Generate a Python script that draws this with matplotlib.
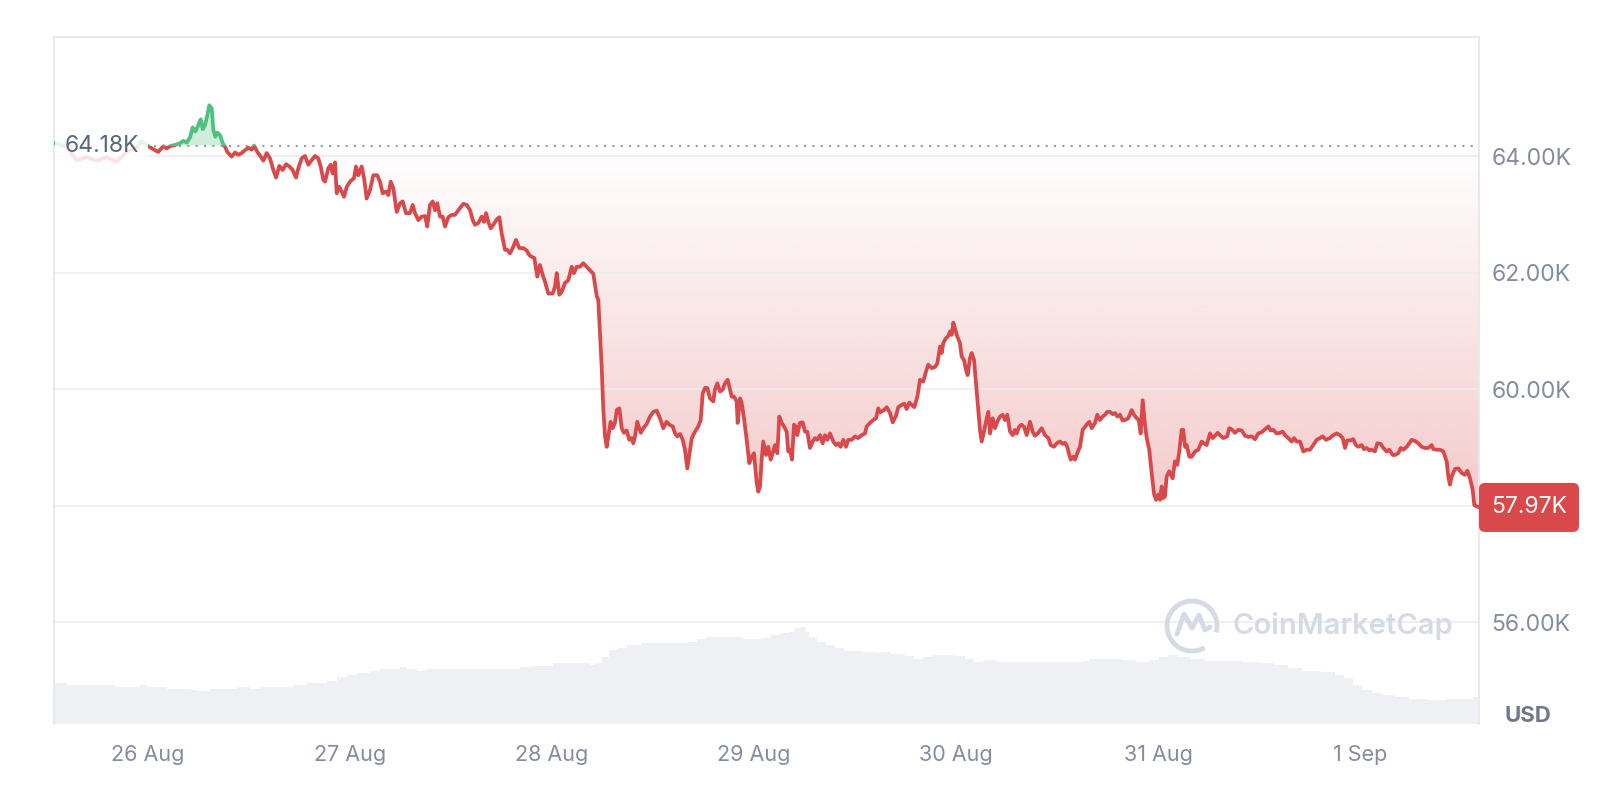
import numpy as np
import pandas as pd
import matplotlib
matplotlib.use("Agg")
import matplotlib.pyplot as plt
import matplotlib.dates as mdates
from matplotlib.patches import Arc, FancyBboxPatch
from matplotlib.path import Path
from matplotlib.ticker import FuncFormatter
from matplotlib.transforms import IdentityTransform, blended_transform_factory

plt.rcParams["font.family"] = ["Inter", "DejaVu Sans"]

# BTC price, 7 days; hours counted from 26 Aug 2024 00:00, prices in thousand USD
hours = [
    -11.05, -9.66, -8.47, -7.28, -6.09, -4.91, -3.72, -2.53, -1.34, -0.75,
    -0.15, 0.24, 0.83, 1.22, 1.82, 2.22, 2.61, 3.21, 3.80, 4.19,
    4.60, 4.99, 5.31, 5.62, 5.98, 6.26, 6.50, 6.77, 7.05, 7.28,
    7.57, 7.76, 8.00, 8.23, 8.55, 8.88, 9.15, 9.42, 9.94, 10.34,
    10.73, 11.13, 11.52, 11.92, 12.32, 12.59, 12.99, 13.39, 13.70, 14.10,
    14.49, 14.89, 15.21, 15.60, 16.00, 16.40, 16.79, 17.19, 17.58, 17.86,
    18.26, 18.65, 19.05, 19.45, 19.84, 20.23, 20.52, 20.83, 21.03, 21.42,
    21.71, 21.94, 22.22, 22.42, 22.73, 23.01, 23.29, 23.61, 24.00, 24.48,
    24.71, 24.99, 25.39, 25.70, 25.98, 26.38, 26.77, 27.24, 27.56, 27.88,
    28.28, 28.55, 28.84, 29.14, 29.55, 29.94, 30.26, 30.65, 31.13, 31.45,
    31.72, 32.12, 32.52, 32.91, 33.18, 33.50, 33.83, 34.10, 34.37, 34.69,
    35.01, 35.29, 35.68, 36.08, 36.47, 36.87, 37.46, 37.87, 38.26, 38.58,
    38.85, 39.24, 39.65, 39.92, 40.16, 40.43, 40.72, 41.03, 41.43, 41.74,
    42.02, 42.42, 42.69, 43.01, 43.33, 43.72, 44.11, 44.59, 44.99, 45.30,
    45.59, 45.90, 46.25, 46.57, 46.89, 47.17, 47.56, 48.08, 48.36, 48.56,
    48.87, 49.15, 49.54, 49.94, 50.34, 50.61, 50.93, 51.33, 51.72, 52.12,
    52.43, 52.91, 53.31, 53.50, 53.70, 53.90, 54.10, 54.30, 54.50, 54.69,
    54.97, 55.21, 55.48, 55.69, 56.00, 56.28, 56.55, 56.87, 57.18, 57.47,
    57.66, 57.86, 58.13, 58.54, 58.85, 59.25, 59.64, 60.04, 60.44, 60.83,
    61.22, 61.62, 61.94, 62.34, 62.61, 62.89, 63.21, 63.53, 63.80, 64.08,
    64.41, 64.61, 64.99, 65.38, 65.67, 65.91, 66.18, 66.45, 66.77, 67.16,
    67.36, 67.64, 67.96, 68.28, 68.55, 68.87, 69.15, 69.35, 69.62, 69.94,
    70.06, 70.34, 70.54, 70.81, 71.13, 71.44, 71.73, 72.00, 72.32, 72.51,
    72.71, 72.91, 73.10, 73.43, 73.70, 73.98, 74.22, 74.49, 74.77, 75.01,
    75.29, 75.56, 75.88, 76.07, 76.28, 76.51, 76.75, 76.99, 77.14, 77.46,
    77.78, 78.06, 78.33, 78.65, 78.97, 79.25, 79.52, 79.84, 80.16, 80.44,
    80.71, 81.03, 81.42, 81.74, 82.01, 82.30, 82.61, 82.93, 83.20, 83.61,
    84.00, 84.39, 84.79, 85.19, 85.39, 85.78, 86.17, 86.50, 86.77, 86.97,
    87.45, 87.77, 88.16, 88.48, 88.87, 89.14, 89.55, 89.86, 90.14, 90.45,
    90.74, 91.05, 91.41, 91.72, 92.11, 92.43, 92.71, 93.11, 93.50, 93.78,
    94.10, 94.30, 94.49, 94.78, 95.08, 95.29, 95.49, 95.68, 95.88, 96.08,
    96.47, 96.67, 96.95, 97.19, 97.39, 97.66, 97.86, 98.14, 98.38, 98.65,
    98.85, 99.05, 99.33, 99.56, 99.84, 100.04, 100.36, 100.63, 100.91, 101.23,
    101.55, 101.82, 102.10, 102.42, 102.74, 103.01, 103.21, 103.52, 103.80, 104.08,
    104.40, 104.79, 105.11, 105.38, 105.78, 106.18, 106.57, 106.97, 107.25, 107.64,
    107.96, 108.36, 108.68, 108.95, 109.22, 109.46, 109.63, 109.94, 110.14, 110.41,
    110.73, 111.05, 111.53, 111.84, 112.12, 112.52, 112.79, 113.11, 113.43, 113.70,
    113.98, 114.30, 114.62, 114.89, 115.17, 115.48, 115.80, 116.08, 116.47, 116.87,
    117.15, 117.47, 117.71, 117.94, 118.18, 118.46, 118.66, 118.96, 119.25, 119.52,
    119.76, 120.04, 120.24, 120.44, 120.63, 120.83, 121.03, 121.34, 121.74, 122.01,
    122.29, 122.53, 122.81, 123.01, 123.21, 123.41, 123.72, 124.00, 124.40, 124.79,
    125.19, 125.46, 125.78, 126.18, 126.50, 126.77, 127.09, 127.36, 127.76, 128.23,
    128.47, 128.76, 129.15, 129.54, 129.94, 130.34, 130.73, 131.13, 131.53, 131.92,
    132.32, 132.71, 133.11, 133.39, 133.70, 134.10, 134.49, 134.81, 135.09, 135.48,
    135.88, 136.16, 136.48, 136.87, 137.26, 137.66, 138.06, 138.45, 138.85, 139.25,
    139.56, 139.96, 140.43, 140.83, 141.23, 141.62, 141.94, 142.22, 142.49, 142.89,
    143.20, 143.52, 143.79, 144.20, 144.47, 144.79, 145.10, 145.39, 145.78, 146.05,
    146.46, 146.77, 147.17, 147.48, 147.88, 148.16, 148.55, 148.84, 149.14, 149.55,
    149.86, 150.14, 150.53, 150.93, 151.33, 151.72, 152.12, 152.52, 152.71, 153.11,
    153.50, 153.90, 154.30, 154.49, 154.69, 154.89, 155.29, 155.68, 156.08, 156.47,
    156.75, 157.07, 157.39, 157.58, 157.86, 158.18,
]
price_k = [
    64.22, 64.16, 63.93, 63.98, 63.92, 63.98, 63.90, 64.07, 64.16, 64.25,
    64.19, 64.15, 64.10, 64.07, 64.17, 64.13, 64.17, 64.19, 64.22, 64.26,
    64.23, 64.32, 64.49, 64.42, 64.53, 64.63, 64.46, 64.53, 64.70, 64.87,
    64.82, 64.45, 64.33, 64.40, 64.36, 64.22, 64.16, 64.07, 63.99, 64.06,
    64.02, 64.05, 64.10, 64.14, 64.11, 64.18, 64.07, 63.99, 63.92, 64.05,
    63.96, 63.76, 63.63, 63.83, 63.76, 63.86, 63.82, 63.76, 63.63, 63.79,
    63.96, 64.00, 63.85, 63.93, 64.00, 63.96, 63.82, 63.59, 63.56, 63.79,
    63.85, 63.70, 63.89, 63.36, 63.47, 63.39, 63.30, 63.47, 63.56, 63.62,
    63.82, 63.67, 63.82, 63.59, 63.27, 63.42, 63.67, 63.67, 63.56, 63.36,
    63.39, 63.33, 63.56, 63.45, 63.04, 63.19, 63.22, 63.02, 63.02, 63.16,
    63.02, 62.90, 62.96, 62.97, 62.79, 63.16, 63.22, 63.07, 63.19, 62.96,
    62.96, 62.79, 62.95, 62.99, 62.99, 63.07, 63.18, 63.16, 63.07, 62.90,
    62.82, 62.85, 62.96, 62.87, 63.02, 62.87, 62.76, 62.82, 62.91, 62.95,
    62.67, 62.39, 62.39, 62.33, 62.42, 62.56, 62.42, 62.42, 62.38, 62.30,
    62.27, 62.25, 61.93, 62.13, 61.96, 61.84, 61.64, 61.64, 61.76, 61.99,
    61.62, 61.67, 61.82, 61.87, 62.10, 61.99, 62.10, 62.10, 62.16, 62.10,
    62.05, 61.98, 61.60, 61.53, 60.96, 60.39, 59.64, 59.19, 59.01, 59.19,
    59.44, 59.33, 59.42, 59.64, 59.67, 59.33, 59.25, 59.29, 59.13, 59.16,
    59.07, 59.19, 59.44, 59.25, 59.33, 59.40, 59.53, 59.61, 59.63, 59.50,
    59.33, 59.44, 59.39, 59.36, 59.24, 59.19, 59.23, 59.13, 58.96, 58.64,
    58.96, 59.16, 59.27, 59.36, 59.47, 59.93, 60.02, 60.02, 59.84, 59.79,
    59.99, 60.10, 59.96, 59.99, 60.10, 60.16, 59.99, 59.87, 59.87, 59.79,
    59.42, 59.84, 59.76, 59.50, 59.13, 58.73, 58.84, 58.90, 58.39, 58.24,
    58.33, 58.79, 59.10, 58.87, 59.01, 58.79, 58.90, 59.04, 58.90, 59.53,
    59.42, 59.36, 59.27, 58.93, 58.96, 58.79, 59.39, 59.36, 59.21, 59.42,
    59.43, 59.27, 59.27, 58.99, 59.10, 59.16, 59.13, 59.21, 59.07, 59.21,
    59.13, 59.24, 59.10, 59.04, 59.07, 59.01, 59.13, 59.01, 59.13, 59.13,
    59.19, 59.16, 59.21, 59.24, 59.36, 59.42, 59.47, 59.50, 59.67, 59.60,
    59.64, 59.69, 59.59, 59.43, 59.54, 59.69, 59.73, 59.75, 59.66, 59.77,
    59.73, 59.69, 59.87, 60.16, 60.13, 60.30, 60.42, 60.36, 60.38, 60.44,
    60.73, 60.62, 60.79, 60.87, 60.91, 60.99, 60.93, 61.14, 61.04, 60.93,
    60.79, 60.56, 60.50, 60.33, 60.24, 60.53, 60.62, 60.50, 60.10, 59.64,
    59.30, 59.10, 59.27, 59.44, 59.61, 59.24, 59.50, 59.33, 59.44, 59.53,
    59.56, 59.47, 59.56, 59.27, 59.21, 59.30, 59.24, 59.36, 59.39, 59.35,
    59.21, 59.44, 59.27, 59.20, 59.25, 59.33, 59.21, 59.16, 59.04, 59.01,
    59.07, 59.10, 59.06, 59.08, 59.01, 58.87, 58.79, 58.84, 58.79, 58.90,
    59.01, 59.30, 59.39, 59.44, 59.33, 59.42, 59.56, 59.47, 59.53, 59.56,
    59.61, 59.61, 59.57, 59.59, 59.53, 59.56, 59.46, 59.47, 59.50, 59.64,
    59.56, 59.50, 59.47, 59.24, 59.81, 59.38, 59.16, 58.96, 58.56, 58.21,
    58.10, 58.19, 58.10, 58.33, 58.13, 58.16, 58.50, 58.59, 58.47, 58.76,
    58.70, 58.93, 59.30, 59.30, 59.01, 59.04, 58.84, 58.84, 58.93, 58.96,
    59.10, 59.07, 59.04, 59.24, 59.16, 59.20, 59.25, 59.21, 59.16, 59.19,
    59.33, 59.31, 59.25, 59.30, 59.29, 59.20, 59.18, 59.19, 59.14, 59.24,
    59.26, 59.31, 59.36, 59.29, 59.30, 59.24, 59.25, 59.27, 59.21, 59.16,
    59.10, 59.16, 59.10, 59.10, 58.93, 58.96, 58.96, 59.04, 59.13, 59.16,
    59.19, 59.13, 59.16, 59.21, 59.24, 59.21, 59.16, 58.99, 59.12, 59.12,
    59.14, 59.04, 59.01, 59.04, 58.97, 58.99, 58.95, 58.96, 58.93, 59.07,
    59.06, 58.99, 58.93, 58.96, 58.87, 58.87, 58.90, 58.99, 58.96, 59.01,
    59.07, 59.13, 59.11, 59.07, 59.01, 58.99, 58.99, 59.04, 58.97, 58.96,
    58.96, 58.93, 58.76, 58.50, 58.36, 58.50, 58.63, 58.64, 58.56, 58.53,
    58.60, 58.47, 58.27, 58.01, 57.99, 57.97,
]

# 24h volume, billions USD
vol_hours = [
    -11.05, -9.66, -3.92, -0.95, -0.15, 2.22, 4.99, 5.79, 7.37, 10.54,
    12.12, 13.31, 17.26, 18.86, 21.23, 22.42, 23.61, 24.80, 26.38, 27.56,
    29.94, 30.74, 31.92, 33.11, 44.20, 45.78, 48.14, 52.54, 53.08, 53.96,
    54.74, 55.83, 56.93, 58.59, 60.23, 64.07, 65.17, 66.27, 70.67, 72.87,
    73.96, 75.06, 76.16, 76.70, 77.48, 78.14, 78.58, 79.45, 80.55, 81.65,
    82.75, 84.95, 86.60, 87.15, 88.24, 89.89, 91.00, 92.09, 93.18, 95.94,
    97.03, 98.14, 99.23, 100.88, 111.31, 111.86, 115.71, 117.36, 119.00, 120.11,
    121.20, 122.30, 123.94, 125.60, 129.99, 132.19, 133.83, 135.48, 137.13, 139.33,
    140.98, 142.08, 143.18, 144.27, 145.38, 146.47, 148.13, 149.78, 151.96, 154.16,
    156.36, 157.46, 158.18,
]
volume_b = [
    20.7, 19.5, 18.4, 19.5, 18.4, 17.4, 17.0, 16.7, 17.5, 18.4,
    17.4, 18.4, 19.5, 20.4, 21.5, 23.4, 24.5, 25.7, 26.7, 27.4,
    28.4, 27.4, 26.7, 27.4, 28.4, 29.2, 30.7, 29.5, 30.4, 33.7,
    37.0, 37.9, 39.5, 40.4, 40.7, 41.2, 42.4, 43.4, 42.4, 42.9,
    44.5, 45.4, 46.2, 47.9, 48.4, 46.2, 43.7, 41.2, 39.5, 37.9,
    36.7, 36.2, 35.7, 36.2, 35.0, 34.0, 32.4, 33.4, 34.5, 34.0,
    32.4, 31.2, 32.0, 31.2, 31.5, 32.4, 32.0, 31.2, 32.0, 33.7,
    34.5, 33.7, 32.4, 31.7, 31.2, 30.4, 29.5, 27.9, 26.7, 26.2,
    24.5, 22.9, 19.5, 17.0, 15.7, 14.5, 13.4, 12.5, 12.0, 12.4,
    12.5, 13.7, 13.7,
]

open_price = 64.18
y_ticks = [56, 58, 60, 62, 64]

RED = "#d9484a"
GREEN = "#4fc17f"
VOL_COLOR = "#eff0f4"
TICK_COLOR = "#858ca0"
FRAME = "#e9e9ec"

start = pd.Timestamp("2024-08-26")
t = mdates.date2num(start + pd.to_timedelta(hours, unit="h"))
tv = mdates.date2num(start + pd.to_timedelta(vol_hours, unit="h"))
price = np.array(price_k)
x0 = mdates.date2num(start + pd.Timedelta(hours=-11.17))
x1 = mdates.date2num(start + pd.Timedelta(hours=158.14))
ylo, yhi = 54.254, 66.042

W, H = 1621, 801
fig = plt.figure(figsize=(W / 100, H / 100), dpi=100)
ax = fig.add_axes([54 / W, 1 - 724 / H, 1425 / W, 687 / H])
axv = ax.twinx()
ax.set_zorder(axv.get_zorder() + 1)
ax.patch.set_visible(False)

# volume in the background
axv.fill_between(tv, volume_b, step="post", color=VOL_COLOR, lw=0)
axv.set_ylim(0, 343.5)
axv.set_xlim(x0, x1)
axv.axis("off")

# fills between price and the open price
ax.fill_between(t, price, open_price, where=price >= open_price, interpolate=True,
                color=GREEN, alpha=0.28, lw=0, zorder=1)
red_poly = ax.fill_between(t, price, open_price, where=price <= open_price,
                           interpolate=True, facecolor="none", lw=0)
grad = np.zeros((256, 1, 4))
grad[..., :3] = matplotlib.colors.to_rgb(RED)
grad[:, 0, 3] = np.linspace(0.30, 0.0, 256)
im = ax.imshow(grad, extent=[x0, x1, 57.8, open_price], origin="lower",
               aspect="auto", interpolation="bilinear", zorder=1)
im.set_clip_path(Path.make_compound_path(*red_poly.get_paths()), transform=ax.transData)

# price line, green above open price, red below
above = Path([(x0, open_price), (x1, open_price), (x1, yhi), (x0, yhi), (x0, open_price)])
below = Path([(x0, ylo), (x1, ylo), (x1, open_price), (x0, open_price), (x0, ylo)])
ln_g, = ax.plot(t, price, color=GREEN, lw=2.7, solid_joinstyle="round", zorder=3)
ln_r, = ax.plot(t, price, color=RED, lw=2.7, solid_joinstyle="round", zorder=3)
ln_g.set_clip_path(above, transform=ax.transData)
ln_r.set_clip_path(below, transform=ax.transData)

ax.axhline(open_price, color="#9a9a9a", lw=1.5, ls=(0, (1, 3)), zorder=2)

ax.set_xlim(x0, x1)
ax.set_ylim(ylo, yhi)

ax.set_yticks(y_ticks)
ax.yaxis.tick_right()
ax.yaxis.set_major_formatter(FuncFormatter(lambda v, p: "" if v == 58 else f"{v:.2f}K"))
ax.grid(axis="y", color="#ededed", lw=1.2)
ax.tick_params(axis="y", length=0, pad=9, labelsize=16.5, labelcolor=TICK_COLOR)

ax.xaxis.set_major_locator(mdates.DayLocator())
ax.xaxis.set_major_formatter(FuncFormatter(
    lambda v, p: f"{mdates.num2date(v).day} {mdates.num2date(v):%b}"))
ax.tick_params(axis="x", length=0, pad=15, labelsize=15.5, labelcolor=TICK_COLOR)

for side in ["top", "left", "right"]:
    ax.spines[side].set_color(FRAME)
    ax.spines[side].set_linewidth(1.5)
ax.spines["bottom"].set_visible(False)

# open price label on the left
ax.text(0.0073, open_price, f"{open_price:.2f}K", transform=blended_transform_factory(ax.transAxes, ax.transData),
        ha="left", va="center", fontsize=16.5, color="#58667e", zorder=6,
        bbox=dict(boxstyle="square,pad=0.4", fc="white", ec="none", alpha=0.85))

# last price tag on the right
last = price[-1]
px, py = ax.transData.transform((x1, last))
tag = FancyBboxPatch((px, py - 24.5), 100, 49, boxstyle="round,pad=0,rounding_size=6",
                     transform=IdentityTransform(), fc=RED, ec="none", zorder=10, clip_on=False)
fig.patches.append(tag)
fig.text((px + 50) / W, py / H, f"{last:.2f}K", ha="center", va="center",
         fontsize=16.5, color="white", zorder=11)

fig.text(1504 / W, 1 - 716 / H, "USD", ha="left", va="center", fontsize=16,
         fontweight="bold", color="#6f788b")

# watermark
wm = "#d5dae4"
cx, cy = 1192, H - 626
fig.patches.append(Arc((cx, cy), 50, 50, theta1=-15, theta2=300, transform=IdentityTransform(),
                       color=wm, lw=3.5))
m_pts = np.array([(-15, -8), (-8, 12), (0, -2), (7, 11), (13, -4), (18, -1)])
fig.lines.append(plt.Line2D(m_pts[:, 0] + cx, m_pts[:, 1] + cy, transform=IdentityTransform(),
                            color=wm, lw=3.5, solid_joinstyle="round", solid_capstyle="round"))
fig.text(1232 / W, 1 - 626 / H, "CoinMarketCap", ha="left", va="center",
         fontsize=21, fontweight="semibold", color=wm)

fig.savefig("out.png", dpi=100, facecolor="white")
